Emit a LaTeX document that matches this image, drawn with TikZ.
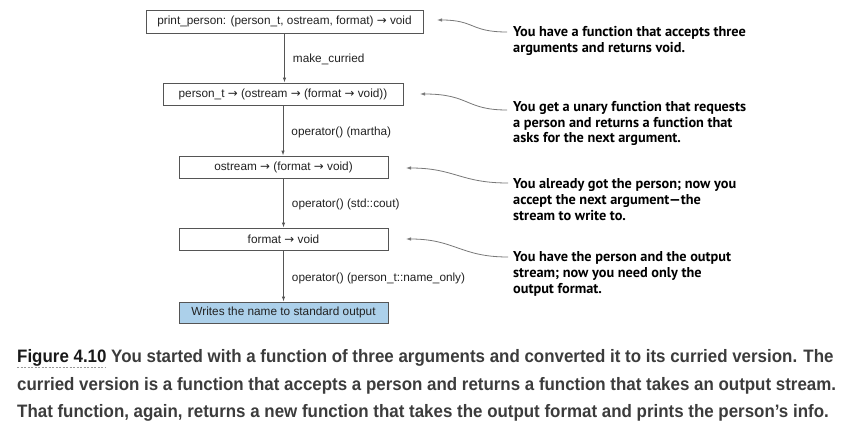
\documentclass[tikz,border=0pt]{standalone}
\usepackage{fontspec}
\setmainfont{Liberation Sans}
\newfontfamily\annfont{PT Sans}
\newfontfamily\arrfont{DejaVu Sans}
\newfontfamily\capfont[FakeStretch=0.94]{Liberation Sans}
\usetikzlibrary{arrows.meta}
\definecolor{boxline}{RGB}{85,85,85}
\definecolor{boxtext}{RGB}{34,34,34}
\definecolor{bluefill}{RGB}{172,208,234}
\definecolor{anngray}{RGB}{120,120,120}
\definecolor{captext}{RGB}{60,60,60}
\newcommand{\fnarrow}{{\arrfont →}}
\tikzset{
  fbox/.style={draw=boxline, line width=0.9pt, inner sep=0pt, minimum height=22pt,
    font=\fontsize{11.8}{13}\selectfont, text=boxtext},
  flow/.style={draw=boxline, line width=0.9pt, -{Latex[length=5pt,width=3.5pt]}},
  elab/.style={anchor=west, xshift=8pt, inner sep=0pt, font=\fontsize{11.8}{13}\selectfont, text=boxtext},
  annot/.style={anchor=north west, inner sep=0pt, align=left, text=black,
    font=\annfont\bfseries\fontsize{14.3}{15.7}\selectfont},
  annarrow/.style={draw=anngray, line width=0.8pt, -{Latex[length=5pt,width=3.5pt]}},
  capline/.style={anchor=base west, inner sep=0pt, text=captext,
    font=\capfont\bfseries\fontsize{18}{20}\selectfont},
}
\begin{document}
\begin{tikzpicture}[x=1pt,y=-1pt]
\useasboundingbox (0,0) rectangle (845,428);
\fill[white] (0,0) rectangle (845,428);

% flow boxes
\node[fbox, minimum width=277pt, minimum height=23pt] (b1) at (284.5,21.5) {print\_person: (person\_t, ostream, format) \fnarrow{} void};
\node[fbox, minimum width=240pt] (b2) at (283,94) {person\_t \fnarrow{} (ostream \fnarrow{} (format \fnarrow{} void))};
\node[fbox, minimum width=209pt] (b3) at (283.5,167) {ostream \fnarrow{} (format \fnarrow{} void)};
\node[fbox, minimum width=209pt] (b4) at (283.5,239) {format \fnarrow{} void};
\node[fbox, minimum width=209pt, minimum height=21pt, fill=bluefill] (b5) at (283.5,312.5) {Writes the name to standard output};

% flow arrows
\draw[flow] (b1.south) -- node[elab, yshift=-1pt] {make\_curried} (b1.south |- b2.north);
\draw[flow] (b2.south) -- node[elab, yshift=-1.5pt] {operator() (martha)} (b2.south |- b3.north);
\draw[flow] (b3.south) -- node[elab, yshift=-1pt] {operator() (std::cout)} (b3.south |- b4.north);
\draw[flow] (b4.south) -- node[elab, yshift=-2pt] {operator() (person\_t::name\_only)} (b4.south |- b5.north);

% annotations
\node[annot] (a1) at (513,26) {You have a function that accepts three\\arguments and returns void.};
\node[annot] (a2) at (513,101) {You get a unary function that requests\\a person and returns a function that\\asks for the next argument.};
\node[annot] (a3) at (513,178.5) {You already got the person; now you\\accept the next argument—the\\stream to write to.};
\node[annot] (a4) at (513,251.5) {You have the person and the output\\stream; now you need only the\\output format.};

\coordinate (t1) at (507,32);
\coordinate (t2) at (507,110);
\coordinate (t3) at (508,183);
\coordinate (t4) at (508,257);
\coordinate (h1) at (437,20);
\coordinate (h2) at (420,94);
\coordinate (h3) at (406,168);
\coordinate (h4) at (406,239);
\draw[annarrow] (t1) .. controls (470,32) and (475,20) .. (h1);
\draw[annarrow] (t2) .. controls (465,110) and (470,94) .. (h2);
\draw[annarrow] (t3) .. controls (460,183) and (455,168) .. (h3);
\draw[annarrow] (t4) .. controls (460,257) and (455,239) .. (h4);

% caption
\node[capline] (c1) at (17,362) {\textcolor{black!90}{Figure 4.10} You started with a function of three arguments and converted it to its curried version. The};
\node[capline] (c2) at (17,390) {curried version is a function that accepts a person and returns a function that takes an output stream.};
\node[capline] (c3) at (17,417) {That function, again, returns a new function that takes the output format and prints the person’s info.};
\draw[black!40, dashed, dash pattern=on 2pt off 1.5pt, line width=0.6pt] (17,367.5) -- (106,367.5);
\end{tikzpicture}
\end{document}
